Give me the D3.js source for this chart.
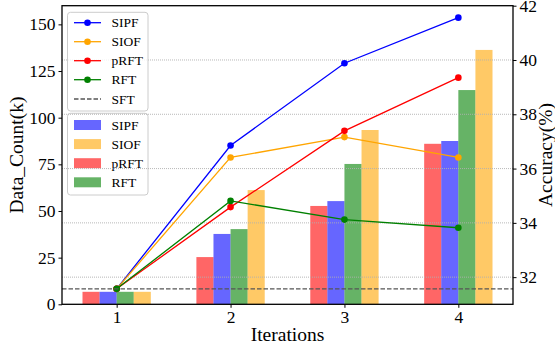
<!DOCTYPE html>
<html><head><meta charset="utf-8">
<script src="https://cdn.jsdelivr.net/npm/d3@7"></script>
<style>body{margin:0;background:#fff}svg{display:block}text{font-family:"Liberation Serif","Times New Roman",serif}</style>
</head><body>
<svg id="c" width="555" height="347"></svg>
<script>
const iterations = [1, 2, 3, 4];
// Bar data (Data_Count(k), left axis)
const barSIPF = [6.7, 37.7, 55.3, 87.5];
const barSIOF = [6.7, 61.2, 93.4, 136.3];
const barPRFT = [6.7, 25.3, 52.7, 86.0];
const barRFT  = [6.7, 40.3, 75.2, 114.8];
// Line data (Accuracy(%), right axis)
const accSIPF = [31.57, 36.85, 39.88, 41.56];
const accSIOF = [31.57, 36.41, 37.16, 36.41];
const accPRFT = [31.57, 34.58, 37.39, 39.35];
const accRFT  = [31.57, 34.81, 34.12, 33.82];
const accSFT = 31.57;
const leftTicks = [0, 25, 50, 75, 100, 125, 150];
const rightTicks = [32, 34, 36, 38, 40, 42];

const svg = d3.select("#c");
const L = 62, R = 513, T = 5.7, B = 304.3;
const x = d3.scaleLinear().domain([0.52, 4.48]).range([L, R]);
const yL = d3.scaleLinear().domain([0, 160]).range([B, T]);
const yR = d3.scaleLinear().domain([31, 42]).range([B, T]);
const w = 0.15;

const barSeries = [
  {name: "pRFT", vals: barPRFT, color: "rgba(255,0,0,0.6)", off: -2},
  {name: "SIPF", vals: barSIPF, color: "rgba(0,0,255,0.6)", off: -1},
  {name: "RFT",  vals: barRFT,  color: "rgba(0,128,0,0.6)", off: 0},
  {name: "SIOF", vals: barSIOF, color: "rgba(255,165,0,0.6)", off: 1},
];
const lineSeries = [
  {name: "SIPF", vals: accSIPF, color: "#0000ff"},
  {name: "SIOF", vals: accSIOF, color: "#ffa500"},
  {name: "pRFT", vals: accPRFT, color: "#ff0000"},
  {name: "RFT",  vals: accRFT,  color: "#008000"},
];

// bars
barSeries.forEach(s => {
  svg.append("g").selectAll("rect").data(s.vals).join("rect")
    .attr("x", (d, i) => x(iterations[i] + s.off * w))
    .attr("width", x(w) - x(0))
    .attr("y", d => yL(d))
    .attr("height", d => yL(0) - yL(d))
    .attr("fill", s.color);
});

// bar legend (under ax2)
function legendBox(y0, y1) {
  svg.append("rect").attr("x", 67.5).attr("y", y0).attr("width", 80.5).attr("height", y1 - y0)
    .attr("rx", 3).attr("fill", "rgba(255,255,255,0.8)").attr("stroke", "#cccccc").attr("stroke-width", 1);
}
legendBox(113.3, 195);
const barLegOrder = ["SIPF", "SIOF", "pRFT", "RFT"];
barLegOrder.forEach((n, i) => {
  const s = barSeries.find(b => b.name === n);
  const cy = 125 + i * 19.1;
  svg.append("rect").attr("x", 74).attr("y", cy - 5).attr("width", 27).attr("height", 10).attr("fill", s.color);
  svg.append("text").attr("x", 111.5).attr("y", cy).attr("dy", "0.35em").attr("font-size", 13.5).text(n);
});

// grid (right axis)
svg.append("g").selectAll("line").data(rightTicks.filter(t => t < 42)).join("line")
  .attr("x1", L).attr("x2", R).attr("y1", d => yR(d)).attr("y2", d => yR(d))
  .attr("stroke", "#b0b0b0").attr("stroke-width", 0.9).attr("stroke-dasharray", "1,1");

// lines
lineSeries.forEach(s => {
  const line = d3.line().x((d, i) => x(iterations[i])).y(d => yR(d));
  svg.append("path").datum(s.vals).attr("d", line).attr("fill", "none")
    .attr("stroke", s.color).attr("stroke-width", 1.3);
  svg.append("g").selectAll("circle").data(s.vals).join("circle")
    .attr("cx", (d, i) => x(iterations[i])).attr("cy", d => yR(d)).attr("r", 3.3).attr("fill", s.color);
});
// SFT
svg.append("line").attr("x1", L).attr("x2", R).attr("y1", yR(accSFT)).attr("y2", yR(accSFT))
  .attr("stroke", "#555555").attr("stroke-width", 1.3).attr("stroke-dasharray", "4.5,2");

// line legend
legendBox(12.3, 111);
lineSeries.forEach((s, i) => {
  const cy = 22.7 + i * 19.0;
  svg.append("line").attr("x1", 74).attr("x2", 101).attr("y1", cy).attr("y2", cy).attr("stroke", s.color).attr("stroke-width", 1.3);
  svg.append("circle").attr("cx", 87.5).attr("cy", cy).attr("r", 3.3).attr("fill", s.color);
  svg.append("text").attr("x", 111.5).attr("y", cy).attr("dy", "0.35em").attr("font-size", 13.5).text(s.name);
});
{
  const cy = 99;
  svg.append("line").attr("x1", 74).attr("x2", 101).attr("y1", cy).attr("y2", cy).attr("stroke", "#555555").attr("stroke-width", 1.3).attr("stroke-dasharray", "4.5,2");
  svg.append("text").attr("x", 111.5).attr("y", cy).attr("dy", "0.35em").attr("font-size", 13.5).text("SFT");
}

// axes
const axL = svg.append("g").attr("transform", `translate(${L},0)`)
  .call(d3.axisLeft(yL).tickValues(leftTicks).tickSize(3.5).tickPadding(3));
const axR = svg.append("g").attr("transform", `translate(${R},0)`)
  .call(d3.axisRight(yR).tickValues(rightTicks).tickSize(3.5).tickPadding(3));
const axB = svg.append("g").attr("transform", `translate(0,${B})`)
  .call(d3.axisBottom(x).tickValues(iterations).tickFormat(d3.format("d")).tickSize(3.5).tickPadding(3));
[axL, axR, axB].forEach(a => {
  a.select(".domain").remove();
  a.selectAll("line").attr("stroke", "#000").attr("stroke-width", 1);
  a.selectAll("text").attr("font-size", 17.5).attr("fill", "#000").attr("font-family", "Liberation Serif, serif");
});
// frame
svg.append("rect").attr("x", L).attr("y", T).attr("width", R - L).attr("height", B - T)
  .attr("fill", "none").attr("stroke", "#000").attr("stroke-width", 1.3);

// titles
svg.append("text").attr("x", (L + R) / 2).attr("y", 341).attr("text-anchor", "middle").attr("font-size", 19.5).text("Iterations");
svg.append("text").attr("transform", `translate(23,${(T + B) / 2}) rotate(-90)`).attr("text-anchor", "middle").attr("font-size", 19.5).text("Data_Count(k)");
svg.append("text").attr("transform", `translate(552,${(T + B) / 2}) rotate(-90)`).attr("text-anchor", "middle").attr("font-size", 19.5).text("Accuracy(%)");
</script>
</body></html>
